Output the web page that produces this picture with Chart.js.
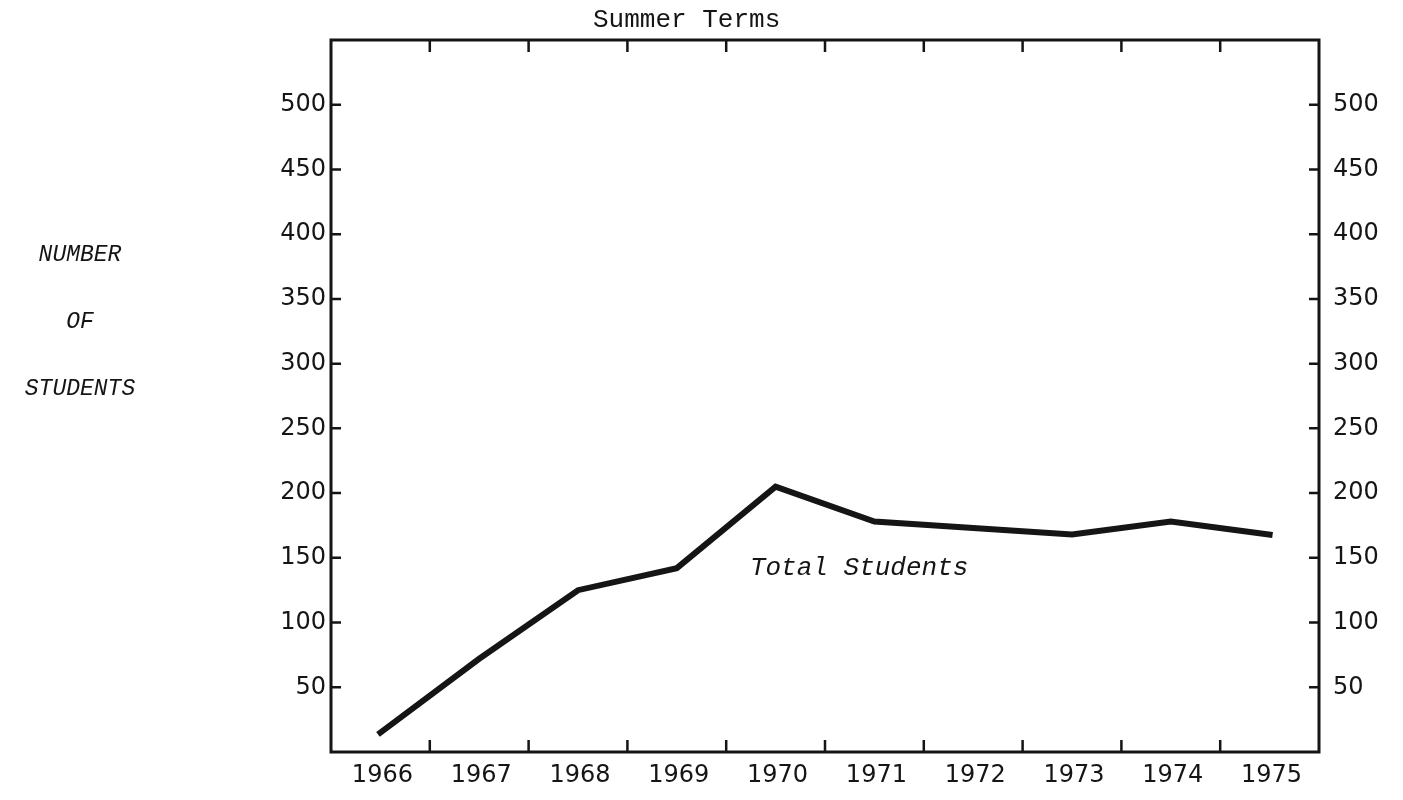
<!DOCTYPE html>
<html>
<head>
<meta charset="utf-8">
<title>Summer Terms</title>
<script src="https://cdn.jsdelivr.net/npm/chart.js@4.4.1/dist/chart.umd.min.js"></script>
<style>
  html, body { margin: 0; padding: 0; background: #fff; }
  #wrap { width: 1403px; height: 800px; }
</style>
</head>
<body>
<div id="wrap"><canvas id="chartSummer" width="1403" height="800"></canvas></div>
<script>
// ==========================
// DATA
// ==========================
const years = ["1966", "1967", "1968", "1969", "1970", "1971", "1972", "1973", "1974", "1975"];
const totalStudents = [15, 72, 125, 142, 205, 178, 173, 168, 178, 168];
const yTicks = [50, 100, 150, 200, 250, 300, 350, 400, 450, 500];

const chartTitle = "Summer Terms";
const seriesLabel = "Total Students";
const axisLabel = ["NUMBER", "OF", "STUDENTS"];

const ink = "#151515";
const numFont = { family: "'DejaVu Sans', sans-serif", size: 24 };

// ==========================
// FRAME, INNER TICKS, TEXT
// ==========================
const frame = {
    id: "frame",
    afterDatasetsDraw(chart) {
        const { ctx, chartArea: a, scales: { x, y } } = chart;
        ctx.save();
        ctx.strokeStyle = ink;
        ctx.lineWidth = 3;
        ctx.strokeRect(a.left, a.top, a.right - a.left, a.bottom - a.top);

        ctx.lineWidth = 2.5;
        ctx.beginPath();
        yTicks.forEach(v => {
            const py = y.getPixelForValue(v);
            ctx.moveTo(a.left, py);
            ctx.lineTo(a.left + 10, py);
            ctx.moveTo(a.right, py);
            ctx.lineTo(a.right - 10, py);
        });
        for (let i = 0; i < years.length - 1; i++) {
            const px = x.getPixelForValue(i + 0.5);
            ctx.moveTo(px, a.bottom);
            ctx.lineTo(px, a.bottom - 12);
            ctx.moveTo(px, a.top);
            ctx.lineTo(px, a.top + 12);
        }
        ctx.stroke();

        ctx.fillStyle = ink;
        ctx.textBaseline = "alphabetic";

        // title
        ctx.textAlign = "left";
        ctx.font = "26px 'Liberation Mono', monospace";
        ctx.fillText(chartTitle, 593, 27);

        // series label inside the plot
        ctx.font = "italic 26px 'Liberation Mono', monospace";
        ctx.fillText(seriesLabel, x.getPixelForValue(3.74), y.getPixelForValue(137));

        // axis label on the left
        ctx.textAlign = "center";
        ctx.font = "italic 23px 'Liberation Mono', monospace";
        axisLabel.forEach((t, i) => ctx.fillText(t, 80, 261 + i * 67));
        ctx.restore();
    }
};

// ==========================
// CHART
// ==========================
const ctx = document.getElementById("chartSummer").getContext("2d");

new Chart(ctx, {
    type: "line",
    data: {
        labels: years,
        datasets: [{
            label: seriesLabel,
            data: totalStudents,
            borderColor: ink,
            borderWidth: 6,
            pointRadius: 0,
            tension: 0,
            borderJoinStyle: "miter",
            borderCapStyle: "square",
            fill: false
        }]
    },
    options: {
        responsive: false,
        animation: false,
        layout: { padding: { top: 40, left: 0, right: 0, bottom: 0 } },
        plugins: {
            legend: { display: false },
            tooltip: { enabled: false },
            title: { display: false }
        },
        scales: {
            x: {
                type: "category",
                offset: true,
                grid: { display: false, drawTicks: false },
                border: { display: false },
                ticks: { color: ink, font: numFont, padding: 9, labelOffset: 2, maxRotation: 0, autoSkip: false },
                afterFit: s => { s.height = 48; }
            },
            y: {
                position: "left",
                min: 0,
                max: 550,
                grid: { display: false, drawTicks: false },
                border: { display: false },
                afterBuildTicks: s => { s.ticks = yTicks.map(v => ({ value: v })); },
                ticks: { color: ink, font: numFont, padding: 5 },
                afterFit: s => { s.width = 331; }
            },
            y2: {
                position: "right",
                min: 0,
                max: 550,
                grid: { display: false, drawTicks: false },
                border: { display: false },
                afterBuildTicks: s => { s.ticks = yTicks.map(v => ({ value: v })); },
                ticks: { color: ink, font: numFont, padding: 14 },
                afterFit: s => { s.width = 84; }
            }
        }
    },
    plugins: [frame]
});
</script>
</body>
</html>
